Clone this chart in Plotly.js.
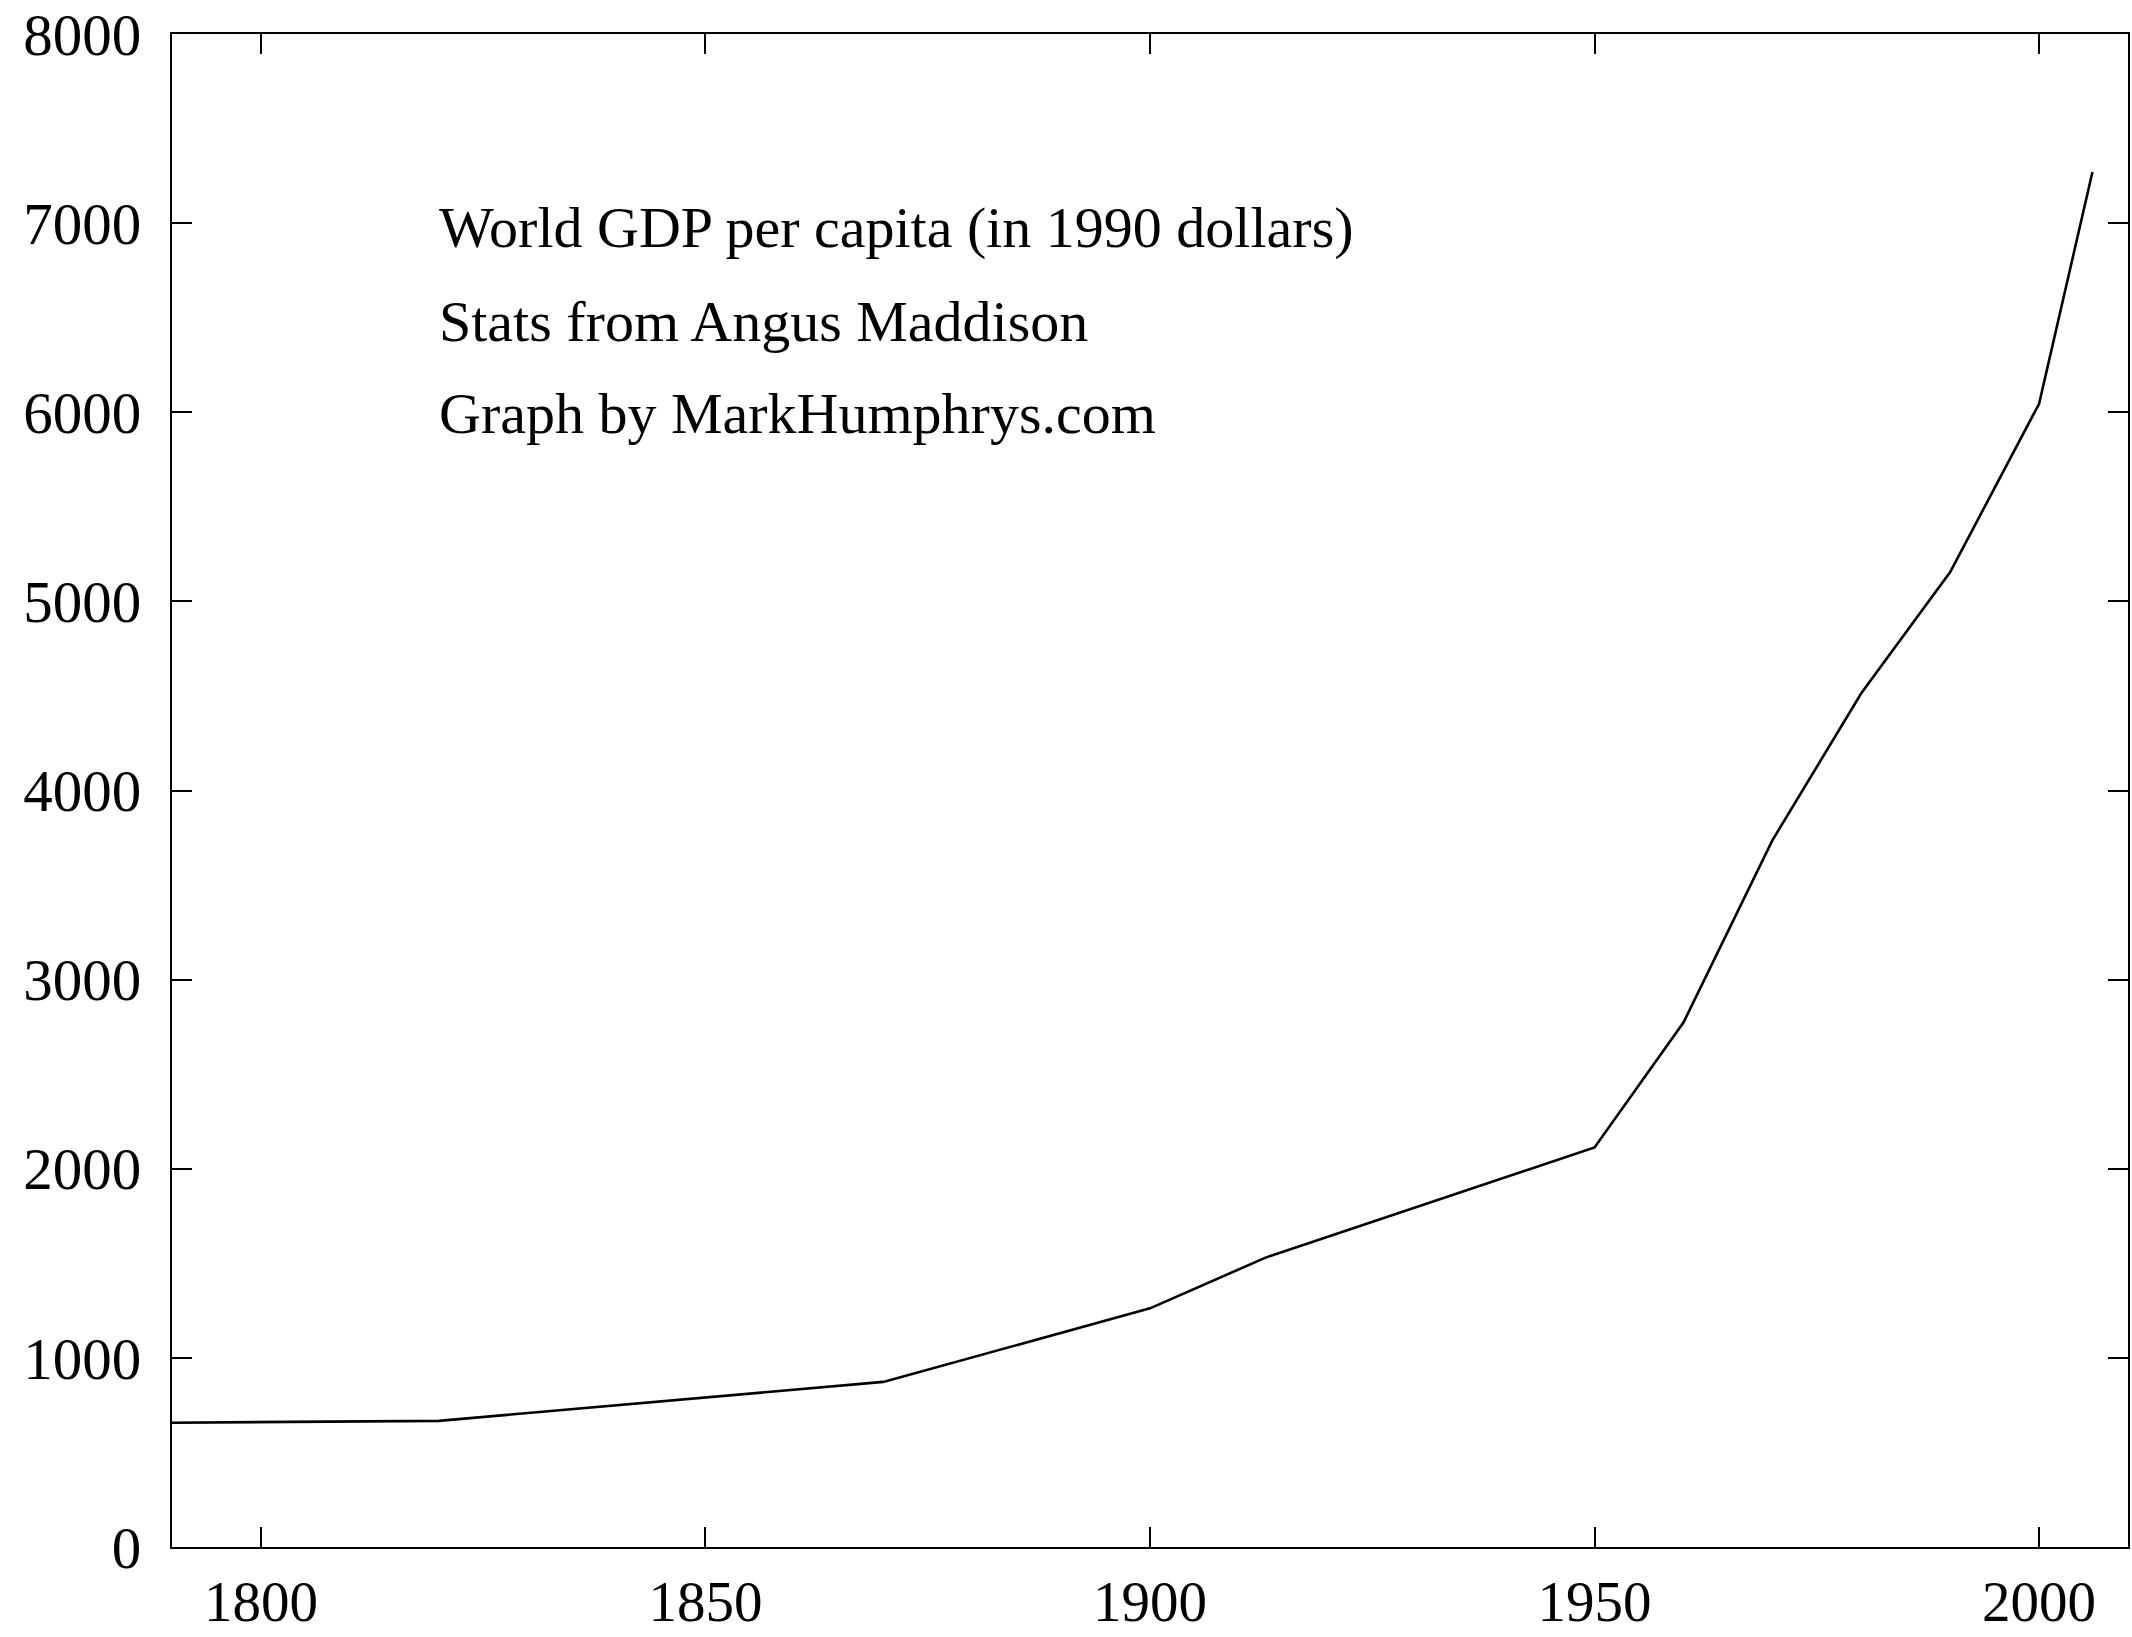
<!DOCTYPE html>
<html>
<head>
<meta charset="utf-8">
<script src="https://cdn.plot.ly/plotly-3.0.1.min.js"></script>
<style>html,body{margin:0;padding:0;background:#fff;}#chart{width:2132px;height:1637px;}</style>
</head>
<body>
<div id="chart"></div>
<script>
const years = [1790, 1820, 1870, 1900, 1913, 1950, 1960, 1970, 1980, 1990, 2000, 2006];
const gdpPerCapita = [657, 667, 873, 1262, 1530, 2113, 2773, 3736, 4514, 5155, 6045, 7270];
const xTicks = [1800, 1850, 1900, 1950, 2000];
const yTicks = [0, 1000, 2000, 3000, 4000, 5000, 6000, 7000, 8000];
const noteLines = [
  "World GDP per capita (in 1990 dollars)",
  "Stats from Angus Maddison",
  "Graph by MarkHumphrys.com"
];

const serif = "Liberation Serif, Times New Roman, serif";

const trace = {
  x: years, y: gdpPerCapita, type: "scatter", mode: "lines",
  line: {color: "#000", width: 2.6}, showlegend: false, hoverinfo: "skip"
};

const noteY = [0.8724, 0.8103, 0.7495];
const annotations = noteLines.map((t, i) => ({
  text: t, xref: "paper", yref: "paper", x: 0.1355, y: noteY[i],
  xanchor: "left", yanchor: "middle", showarrow: false,
  font: {family: serif, size: 58, color: "#000"}
}));

const axisCommon = {
  showgrid: false, zeroline: false, showline: true, linecolor: "#000", linewidth: 2,
  mirror: "ticks", ticks: "inside", ticklen: 20, tickwidth: 2, tickcolor: "#000"
};

const layout = {
  width: 2132, height: 1637,
  margin: {l: 172, r: 4, t: 34, b: 90, pad: 0},
  paper_bgcolor: "#fff", plot_bgcolor: "#fff",
  xaxis: Object.assign({}, axisCommon, {range: [1790, 2010], tickvals: xTicks, ticktext: xTicks.map(String), ticklabelstandoff: 4,
    tickfont: {family: serif, size: 57, color: "#000"}}),
  yaxis: Object.assign({}, axisCommon, {range: [0, 8000], tickvals: yTicks, ticktext: yTicks.map(String), ticklabelstandoff: 17,
    tickfont: {family: serif, size: 59, color: "#000"}}),
  annotations: annotations
};

Plotly.newPlot("chart", [trace], layout, {staticPlot: true, displayModeBar: false});
</script>
</body>
</html>
